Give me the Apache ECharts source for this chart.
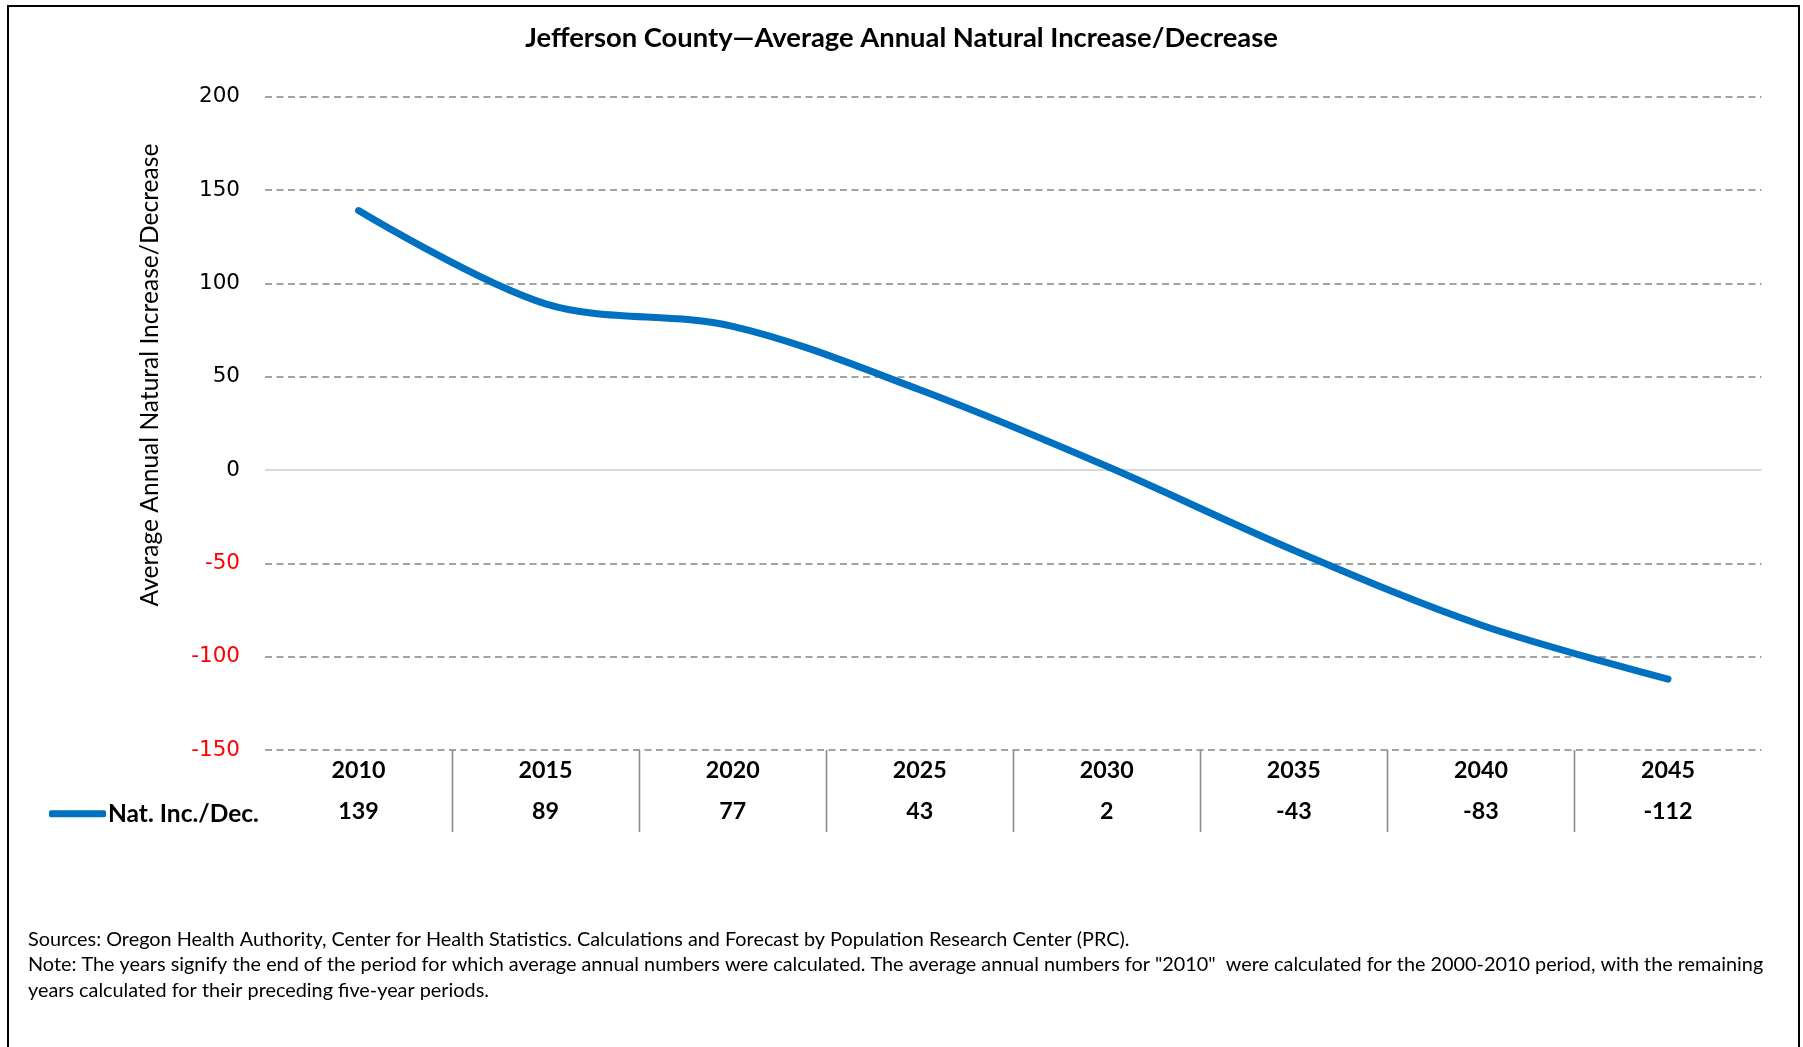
<!DOCTYPE html>
<html>
<head>
<meta charset="utf-8">
<script src="https://cdn.jsdelivr.net/npm/echarts@6/dist/echarts.min.js"></script>
<style>
html,body{margin:0;padding:0;background:#fff;}
#chart{width:1803px;height:1047px;}
</style>
</head>
<body>
<div id="chart"></div>
<script>
// ---- data ----
const titleText = 'Jefferson County\u2014Average Annual Natural Increase/Decrease';
const yAxisName = 'Average Annual Natural Increase/Decrease';
const seriesName = 'Nat. Inc./Dec.';
const categories = ['2010', '2015', '2020', '2025', '2030', '2035', '2040', '2045'];
const values = [139, 89, 77, 43, 2, -43, -83, -112];
const yMin = -150, yMax = 200, yStep = 50;
const footerLines = [
  'Sources: Oregon Health Authority, Center for Health Statistics. Calculations and Forecast by Population Research Center (PRC).',
  'Note: The years signify the end of the period for which average annual numbers were calculated. The average annual numbers for "2010"  were calculated for the 2000-2010 period, with the remaining',
  'years calculated for their preceding five-year periods.'
];

// ---- font fitting helper ----
const FONT = 'Lato, "Open Sans", sans-serif';
const ctx = document.createElement('canvas').getContext('2d');
function fit(text, weight, target) {
  ctx.font = weight + ' 100px ' + FONT;
  return +(100 * target / ctx.measureText(text).width).toFixed(2);
}
const titleSize = fit(titleText, 'bold', 753);
const yNameSize = fit(yAxisName, 'normal', 463);
const tableSize = fit('2010', 'bold', 54);
const legendSize = fit(seriesName, 'bold', 151);
const footSize = fit(footerLines[1], 'normal', 1735);

const chart = echarts.init(document.getElementById('chart'), null, {renderer: 'canvas'});

const boundaries = categories.slice(1).map((c, i) => [i + 1, yMin]);

const option = {
  backgroundColor: '#fff',
  animation: false,
  title: {
    text: titleText,
    left: 'center',
    top: 36 - titleSize * 0.6,
    textStyle: {fontFamily: FONT, fontWeight: 'bold', fontSize: titleSize, color: '#000'}
  },
  legend: {
    data: [seriesName],
    left: 44,
    top: 811 - legendSize * 0.6,
    icon: 'roundRect',
    itemWidth: 57,
    itemHeight: 7,
    textStyle: {fontFamily: FONT, fontWeight: 'bold', fontSize: legendSize, color: '#000', padding: [0, 0, 0, -3]}
  },
  grid: {left: 265, right: 41.5, top: 96.7, bottom: 297, containLabel: false},
  xAxis: {
    type: 'category',
    data: categories,
    boundaryGap: true,
    axisLine: {show: false},
    axisTick: {show: false},
    splitLine: {show: false},
    axisLabel: {
      margin: 0,
      interval: 0,
      formatter: (v, i) => '{y|' + v + '}\n{v|' + values[i] + '}',
      rich: {
        y: {fontFamily: FONT, fontWeight: 'bold', fontSize: tableSize, color: '#000', lineHeight: 41},
        v: {fontFamily: FONT, fontWeight: 'bold', fontSize: tableSize, color: '#000', lineHeight: 41}
      }
    }
  },
  yAxis: {
    type: 'value',
    min: yMin,
    max: yMax,
    interval: yStep,
    axisLine: {show: false},
    axisTick: {show: false},
    axisLabel: {
      margin: 25,
      padding: [4, 0, 0, 0],
      fontFamily: '"DejaVu Sans", Verdana, sans-serif',
      fontSize: 21.5,
      color: (v) => (Number(v) < 0 ? '#FF0000' : '#000000')
    },
    splitLine: {
      show: true,
      lineStyle: {
        color: ['#858585', '#858585', '#858585', 'rgba(0,0,0,0)', '#858585', '#858585', '#858585', '#858585'],
        width: 1.7,
        type: [7, 4.5]
      }
    }
  },
  series: [
    {
      name: 'separators',
      type: 'custom',
      z: 1,
      silent: true,
      clip: false,
      data: boundaries,
      renderItem: function (params, api) {
        const p = api.coord([api.value(0), api.value(1)]);
        const bw = api.size([1, 0])[0];
        const x = Math.round(p[0] - bw / 2) + 0.5;
        return {
          type: 'line',
          shape: {x1: x, y1: p[1], x2: x, y2: p[1] + 82},
          style: {stroke: '#8c8c8c', lineWidth: 1.6}
        };
      },
      markLine: {
        silent: true,
        symbol: ['none', 'none'],
        label: {show: false},
        lineStyle: {color: '#D9D9D9', width: 2, type: 'solid'},
        data: [{yAxis: 0}]
      }
    },
    {
      name: seriesName,
      type: 'line',
      z: 5,
      data: values,
      smooth: 0.33,
      showSymbol: false,
      symbol: 'none',
      color: '#0070C0',
      lineStyle: {color: '#0070C0', width: 7, cap: 'round', join: 'round'}
    }
  ],
  graphic: [
    {
      type: 'rect',
      shape: {x: 8, y: 6, width: 1791, height: 1070},
      style: {fill: 'none', stroke: '#000', lineWidth: 2},
      silent: true,
      z: 100
    },
    {
      type: 'text',
      x: 150,
      y: 375,
      rotation: Math.PI / 2,
      silent: true,
      style: {
        text: yAxisName,
        fontFamily: FONT,
        fontSize: yNameSize,
        fill: '#000',
        textAlign: 'center',
        textVerticalAlign: 'middle'
      }
    },
    {
      type: 'text',
      x: 28,
      y: 927,
      style: {
        text: footerLines.join('\n'),
        fontFamily: FONT,
        fontSize: footSize,
        lineHeight: 25.3,
        fill: '#000',
        textAlign: 'left',
        textVerticalAlign: 'top'
      },
      silent: true
    }
  ]
};
chart.setOption(option);
</script>
</body>
</html>
